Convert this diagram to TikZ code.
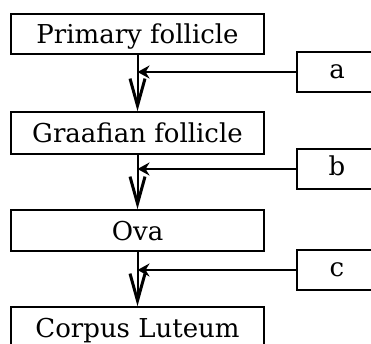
\documentclass[tikz,border=0pt]{standalone}
\usepackage{fontspec}
\setmainfont{DejaVu Serif}
\usetikzlibrary{arrows.meta}
\tikzset{
  x=1pt,y=1pt,
  stagebox/.style={draw, line width=1.6pt, minimum width=253pt, inner sep=0pt,
    font=\fontsize{26}{30}\selectfont, text height=19pt, text depth=0pt},
  sidebox/.style={draw, line width=1.6pt, minimum width=80pt, minimum height=40pt, inner sep=0pt,
    font=\fontsize{26}{30}\selectfont, text height=13pt, text depth=0pt},
  flow/.style={line width=2pt, -{Straight Barb[length=27pt,width=15pt,line width=3pt]}},
  feed/.style={line width=2pt, -{Stealth[length=12pt,width=13pt]}}
}
\begin{document}
\begin{tikzpicture}
\useasboundingbox (0,0) rectangle (371,343);
\node[stagebox, minimum height=40pt] (p) at (137.5,309) {Primary follicle};
\node[stagebox, minimum height=42pt] (g) at (137.5,210) {Graafian follicle};
\node[stagebox, minimum height=41pt] (o) at (137.5,112.5) {Ova};
\node[stagebox, minimum height=42pt] (cl) at (137.5,15) {Corpus Luteum};
\node[sidebox] (a) at (337,271) {a};
\node[sidebox] (b) at (337,174) {b};
\node[sidebox] (c) at (337,73) {c};
\draw[flow] (p.south) -- (g.north);
\draw[flow] (g.south) -- (o.north);
\draw[flow] (o.south) -- (cl.north);
\coordinate (ja) at (p.south |- a.west);
\coordinate (jb) at (p.south |- b.west);
\coordinate (jc) at (p.south |- c.west);
\draw[feed] (a.west) -- (ja);
\draw[feed] (b.west) -- (jb);
\draw[feed] (c.west) -- (jc);
\end{tikzpicture}
\end{document}
